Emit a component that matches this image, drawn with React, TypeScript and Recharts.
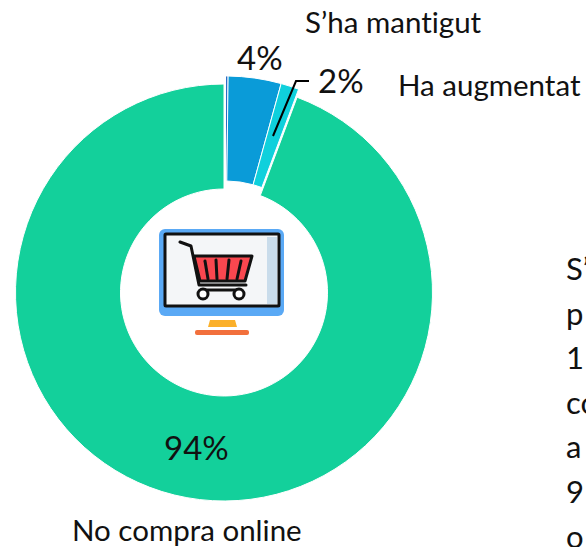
import React from 'react';
import { PieChart, Pie, Cell, Sector } from 'recharts';

const segmentNames = ['Altres', "S'ha mantigut", 'Ha augmentat', 'No compra online'];
const segmentValues = [0.2, 4.1, 1.4, 94.3];
const segmentColors = ['#2B6CC4', '#0A9BD8', '#0FD0DC', '#13D09B'];
const explodedSegments = ["Altres", "S'ha mantigut", 'Ha augmentat'];
const percentLabels = ['4%', '2%', '94%'];
const categoryLabels = ['S’ha mantigut', 'Ha augmentat', 'No compra online'];
const sideTextLines = ['S’', 'p', '1', 'co', 'a', '9', 'o'];

const chartData = segmentNames.map((name, i) => ({ name, value: segmentValues[i] }));

const FONT = 'Lato, Carlito, sans-serif';

// small slices are pulled out of the ring, upwards
const renderSlice = (props: any) => {
  const lifted = explodedSegments.includes(props.name);
  return (
    <Sector
      {...props}
      cx={lifted ? props.cx + 1.5 : props.cx}
      cy={lifted ? props.cy - 8 : props.cy}
      stroke="#fff"
      strokeWidth={1}
    />
  );
};

const MonitorIcon = () => (
  <g>
    <rect x={159} y={229} width={125} height={87} rx={6} fill="#5AA9F5" />
    <rect x={165} y={234} width={114} height={72} rx={1} fill="#F4F6F8" stroke="#111" strokeWidth={3} />
    <rect x={267} y={237} width={10} height={67} fill="#C9DCEB" />
    <polyline points="180,242 191,246 199,285 246,285" fill="none" stroke="#111" strokeWidth={3} strokeLinecap="round" strokeLinejoin="round" />
    <polygon points="194,256 252,256 245,281 200,281" fill="#F9474F" stroke="#111" strokeWidth={3} strokeLinejoin="round" />
    <line x1={205} y1={261} x2={208} y2={279} stroke="#111" strokeWidth={3} strokeLinecap="round" />
    <line x1={216} y1={260} x2={217} y2={279} stroke="#111" strokeWidth={3} strokeLinecap="round" />
    <line x1={229} y1={260} x2={227} y2={279} stroke="#111" strokeWidth={3} strokeLinecap="round" />
    <line x1={241} y1={261} x2={237} y2={279} stroke="#111" strokeWidth={3} strokeLinecap="round" />
    <line x1={204} y1={290} x2={238} y2={290} stroke="#111" strokeWidth={3} />
    <circle cx={203} cy={294} r={5} fill="#fff" stroke="#111" strokeWidth={3} />
    <circle cx={239} cy={294} r={5} fill="#fff" stroke="#111" strokeWidth={3} />
    <polygon points="210,320 235,320 237,327 208,327" fill="#FBB02A" />
    <rect x={195} y={330} width={54} height={5} rx={2} fill="#F2703C" />
  </g>
);

export default function App() {
  return (
    <div style={{ position: 'absolute', left: 0, top: 0, width: 586, height: 547, overflow: 'hidden', background: '#fff' }}>
      <PieChart width={586} height={547} margin={{ top: 0, right: 0, bottom: 0, left: 0 }}>
        <Pie
          data={chartData}
          dataKey="value"
          nameKey="name"
          cx={224}
          cy={292.5}
          innerRadius={103.5}
          outerRadius={208.5}
          startAngle={90}
          endAngle={-270}
          paddingAngle={0}
          isAnimationActive={false}
          shape={renderSlice}
        >
          {chartData.map((d, i) => (
            <Cell key={d.name} fill={segmentColors[i]} />
          ))}
        </Pie>
      </PieChart>
      {/* the chart paints its slices last, so labels go in a layer on top */}
      <svg width={586} height={547} style={{ position: 'absolute', left: 0, top: 0, pointerEvents: 'none' }}>
        <MonitorIcon />
        <polyline points="273,136 296,81 309,81" fill="none" stroke="#000" strokeWidth={2} />
        <g fontFamily={FONT} fill="#111" style={{ fontVariantLigatures: 'none' }}>
          <text x={237} y={70} fontSize={33}>{percentLabels[0]}</text>
          <text x={318} y={93} fontSize={33}>{percentLabels[1]}</text>
          <text x={164} y={460} fontSize={33}>{percentLabels[2]}</text>
          <text x={305} y={33} fontSize={29.5}>{categoryLabels[0]}</text>
          <text x={398} y={96} fontSize={29.5}>{categoryLabels[1]}</text>
          <text x={72} y={541} fontSize={29.5}>{categoryLabels[2]}</text>
          {sideTextLines.map((line, i) => (
            <text key={i} x={566} y={280 + i * 44.6} fontSize={31}>{line}</text>
          ))}
        </g>
      </svg>
    </div>
  );
}
